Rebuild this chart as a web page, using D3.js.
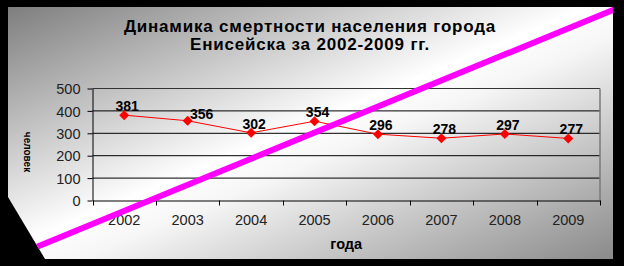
<!DOCTYPE html>
<html>
<head>
<meta charset="utf-8">
<script src="https://cdn.jsdelivr.net/npm/d3@7"></script>
<style>
  body { margin: 0; background: #000; }
  svg { display: block; }
  .axis text { font-family: 'Liberation Sans', Arial, sans-serif; font-size: 14.5px; fill: #222; }
  .axis path, .axis line { stroke: #000; }
</style>
</head>
<body>
<div id="chart"></div>
<script>
var years = ['2002', '2003', '2004', '2005', '2006', '2007', '2008', '2009'];
var deaths = [381, 356, 302, 354, 296, 278, 297, 277];
var yTicks = [0, 100, 200, 300, 400, 500];
var titleLines = ['Динамика смертности населения города', 'Енисейска за 2002-2009 гг.'];
var xTitle = 'года';
var yTitle = 'человек';

// label tweaks, the 2003 label sits to the right of its point
var labelNudge = { '2003': 11 };

var W = 624, H = 266;
var margin = { top: 88, right: 24, bottom: 66, left: 92 };

var svg = d3.select('#chart')
  .append('svg')
  .attr('width', W)
  .attr('height', H);

var defs = svg.append('defs');
var grad = defs.append('linearGradient')
  .attr('id', 'bg')
  .attr('x1', 0).attr('y1', 0)
  .attr('x2', 1).attr('y2', 1);
grad.append('stop').attr('offset', '0%').attr('stop-color', '#7e7e7e');
grad.append('stop').attr('offset', '48%').attr('stop-color', '#ffffff');
grad.append('stop').attr('offset', '56%').attr('stop-color', '#f6f6f6');
grad.append('stop').attr('offset', '100%').attr('stop-color', '#8a8a8a');

// chart area with the cut off lower left corner
var area = [[8, 7], [613, 7], [613, 259], [45, 259], [8, 197]];
defs.append('clipPath').attr('id', 'areaClip')
  .append('polygon')
  .attr('points', area.join(' '));

svg.append('polygon')
  .attr('points', area.join(' '))
  .attr('fill', 'url(#bg)');

var x = d3.scaleBand()
  .domain(years)
  .range([margin.left + 0.5, W - margin.right]);

var y = d3.scaleLinear()
  .domain([0, 500])
  .range([H - margin.bottom + 0.5, margin.top + 0.5]);

var g = svg.append('g');

// grid lines
g.selectAll('.grid')
  .data(yTicks.slice(1, -1))
  .enter()
  .append('line')
  .attr('x1', x.range()[0])
  .attr('x2', x.range()[1])
  .attr('y1', function(d) { return y(d); })
  .attr('y2', function(d) { return y(d); })
  .attr('stroke', '#000');

// plot border: top dark, right grey
g.append('line')
  .attr('x1', x.range()[0]).attr('x2', x.range()[1])
  .attr('y1', y(500)).attr('y2', y(500))
  .attr('stroke', '#333');
g.append('line')
  .attr('x1', x.range()[1]).attr('x2', x.range()[1])
  .attr('y1', y(500)).attr('y2', y(0))
  .attr('stroke', '#7a7a7a')
  .attr('stroke-width', 1.5);

// y axis
var yAxis = d3.axisLeft(y)
  .tickValues(yTicks)
  .tickSize(5)
  .tickPadding(7)
  .tickSizeOuter(0);
g.append('g')
  .attr('class', 'axis')
  .attr('transform', 'translate(' + x.range()[0] + ',0)')
  .call(yAxis)
  .selectAll('text')
  .attr('dy', '0.36em');

// x axis, labels centred, ticks on category borders
var xAxis = d3.axisBottom(x)
  .tickSize(0)
  .tickPadding(14)
  .tickSizeOuter(0);
var xg = g.append('g')
  .attr('class', 'axis')
  .attr('transform', 'translate(0,' + y(0) + ')')
  .call(xAxis);
xg.selectAll('.tick line').remove();
xg.selectAll('.border')
  .data(years.concat(['end']))
  .enter()
  .append('line')
  .attr('x1', function(d, i) { return Math.round(x.range()[0] + i * x.step()) + 0.5; })
  .attr('x2', function(d, i) { return Math.round(x.range()[0] + i * x.step()) + 0.5; })
  .attr('y1', 0)
  .attr('y2', 5)
  .attr('stroke', '#000');

// series
var line = d3.line()
  .x(function(d, i) { return x(years[i]) + x.bandwidth() / 2; })
  .y(function(d) { return y(d); });

g.append('path')
  .datum(deaths)
  .attr('d', line)
  .attr('fill', 'none')
  .attr('stroke', '#ff0000')
  .attr('stroke-width', 1);

g.selectAll('.marker')
  .data(deaths)
  .enter()
  .append('path')
  .attr('d', d3.symbol().type(d3.symbolSquare).size(50))
  .attr('transform', function(d, i) {
    return 'translate(' + (x(years[i]) + x.bandwidth() / 2) + ',' + y(d) + ') rotate(45)';
  })
  .attr('fill', '#ff0000');

g.selectAll('.value')
  .data(deaths)
  .enter()
  .append('text')
  .attr('x', function(d, i) { return x(years[i]) + x.bandwidth() / 2 + 3 + (labelNudge[years[i]] || 0); })
  .attr('y', function(d, i) { return y(d) - (labelNudge[years[i]] ? 2 : 4); })
  .attr('text-anchor', 'middle')
  .style('font-family', "'Liberation Sans', Arial, sans-serif")
  .style('font-size', '14px')
  .style('font-weight', 'bold')
  .attr('fill', '#000')
  .text(function(d) { return d; });

// titles
svg.selectAll('.title')
  .data(titleLines)
  .enter()
  .append('text')
  .attr('x', 310)
  .attr('y', function(d, i) { return 32 + i * 18; })
  .attr('text-anchor', 'middle')
  .style('font-family', "'Liberation Sans', Arial, sans-serif")
  .style('font-size', '17px')
  .style('letter-spacing', '0.8px')
  .style('font-weight', 'bold')
  .attr('fill', '#000')
  .text(function(d) { return d; });

svg.append('text')
  .attr('x', (x.range()[0] + x.range()[1]) / 2)
  .attr('y', 249)
  .attr('text-anchor', 'middle')
  .style('font-family', "'Liberation Sans', Arial, sans-serif")
  .style('font-size', '14.5px')
  .style('font-weight', 'bold')
  .attr('fill', '#000')
  .text(xTitle);

svg.append('text')
  .attr('transform', 'translate(24,152) rotate(90)')
  .attr('text-anchor', 'middle')
  .style('font-family', "'Liberation Sans', Arial, sans-serif")
  .style('font-size', '10px')
  .style('font-weight', 'bold')
  .attr('fill', '#000')
  .text(yTitle);

// magenta stroke across the picture
svg.append('line')
  .attr('clip-path', 'url(#areaClip)')
  .attr('x1', 0).attr('y1', 262)
  .attr('x2', W).attr('y2', 5.5)
  .attr('stroke', '#ff00ff')
  .attr('stroke-width', 6);
</script>
</body>
</html>
